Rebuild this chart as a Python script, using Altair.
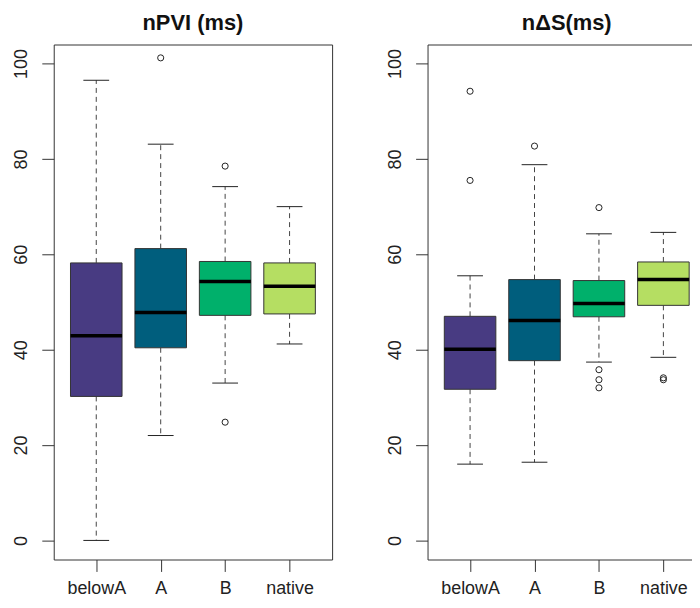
import json
import altair as alt
import pandas as pd

# ---------------- data ----------------
categories = ["belowA", "A", "B", "native"]
box_colors = ["#483b82", "#005e7d", "#00b06b", "#b5de62"]

npvi_lower = [0.0, 22.0, 33.0, 41.2]
npvi_q1 = [30.2, 40.4, 47.2, 47.5]
npvi_median = [42.9, 47.8, 54.3, 53.3]
npvi_q3 = [58.2, 61.2, 58.5, 58.2]
npvi_upper = [96.5, 83.1, 74.2, 70.0]
npvi_outliers = [[], [101.2], [78.5, 24.8], []]

nds_lower = [16.0, 16.4, 37.4, 38.4]
nds_q1 = [31.7, 37.7, 46.9, 49.3]
nds_median = [40.1, 46.1, 49.7, 54.7]
nds_q3 = [47.0, 54.7, 54.5, 58.4]
nds_upper = [55.5, 78.8, 64.3, 64.6]
nds_outliers = [[94.2, 75.5], [82.7], [69.8, 35.8, 33.7, 32.0], [34.1, 33.7]]

y_ticks = [0, 20, 40, 60, 80, 100]

FONT = "Liberation Sans"
BOX_HALF = 0.4
CAP_HALF = 0.2
PW, PH = 280, 518

label_expr = json.dumps(categories) + "[datum.value - 1]"


def panel(title, lower, q1, med, q3, upper, outl):
    pos = list(range(1, len(categories) + 1))
    boxes = pd.DataFrame({
        "cat": categories,
        "xl": [p - BOX_HALF for p in pos],
        "xr": [p + BOX_HALF for p in pos],
        "q1": q1, "q3": q3, "med": med,
    })
    whisk = pd.DataFrame({
        "pos": pos + pos,
        "y": q3 + q1,
        "y2": upper + lower,
    })
    caps = pd.DataFrame({
        "xl": [p - CAP_HALF for p in pos] * 2,
        "xr": [p + CAP_HALF for p in pos] * 2,
        "y": upper + lower,
    })
    out_rows = [(p, v) for p, vals in zip(pos, outl) for v in vals]
    outs = pd.DataFrame(out_rows, columns=["pos", "v"])

    xs = alt.Scale(domain=[0.34, 4.66], nice=False, zero=False)
    ys = alt.Scale(domain=[-4, 104], nice=False, zero=False)
    xaxis = alt.Axis(values=pos, labelExpr=label_expr, title=None, grid=False,
                     domain=False, tickSize=12, labelPadding=8,
                     labelFontSize=18, labelFont=FONT, labelColor="#222",
                     tickColor="#333")
    yaxis = alt.Axis(values=y_ticks, title=None, grid=False, domain=False,
                     tickSize=12, labelAngle=270, labelAlign="center",
                     labelBaseline="alphabetic", labelPadding=15,
                     labelFontSize=18, labelFont=FONT, labelColor="#222",
                     tickColor="#333")

    w = alt.Chart(whisk).mark_rule(strokeDash=[5, 4], color="#444", strokeWidth=1, clip=True).encode(
        x=alt.X("pos:Q", scale=xs, axis=xaxis),
        y=alt.Y("y:Q", scale=ys, axis=yaxis),
        y2="y2:Q",
    )
    c = alt.Chart(caps).mark_rule(color="#222", strokeWidth=1, clip=True).encode(
        x=alt.X("xl:Q", scale=xs), x2="xr:Q", y=alt.Y("y:Q", scale=ys),
    )
    b = alt.Chart(boxes).mark_rect(stroke="#333", strokeWidth=1, clip=True).encode(
        x=alt.X("xl:Q", scale=xs), x2="xr:Q",
        y=alt.Y("q1:Q", scale=ys), y2="q3:Q",
        color=alt.Color("cat:N", scale=alt.Scale(domain=categories, range=box_colors), legend=None),
    )
    m = alt.Chart(boxes).mark_rule(color="black", strokeWidth=3.5, clip=True).encode(
        x=alt.X("xl:Q", scale=xs), x2="xr:Q", y=alt.Y("med:Q", scale=ys),
    )
    o = alt.Chart(outs).mark_point(shape="circle", filled=False, color="#222",
                                   size=38, strokeWidth=1, opacity=1, clip=True).encode(
        x=alt.X("pos:Q", scale=xs), y=alt.Y("v:Q", scale=ys),
    )
    return alt.layer(w, c, b, m, o).properties(
        width=PW, height=PH,
        title=alt.Title(title, font=FONT, fontSize=22, fontWeight="bold", color="#111",
                        anchor="middle", offset=10),
    )


left = panel("nPVI (ms)", npvi_lower, npvi_q1, npvi_median, npvi_q3, npvi_upper, npvi_outliers)
right = panel("n\u0394S(ms)", nds_lower, nds_q1, nds_median, nds_q3, nds_upper, nds_outliers)

chart = alt.hconcat(left, right, spacing=53).properties(
    padding={"left": 4, "top": 1, "right": -15, "bottom": -1},
    background="white",
).configure_view(stroke="#333", strokeWidth=1)

chart.save("out.html", embed_options={"renderer": "svg", "actions": False})
